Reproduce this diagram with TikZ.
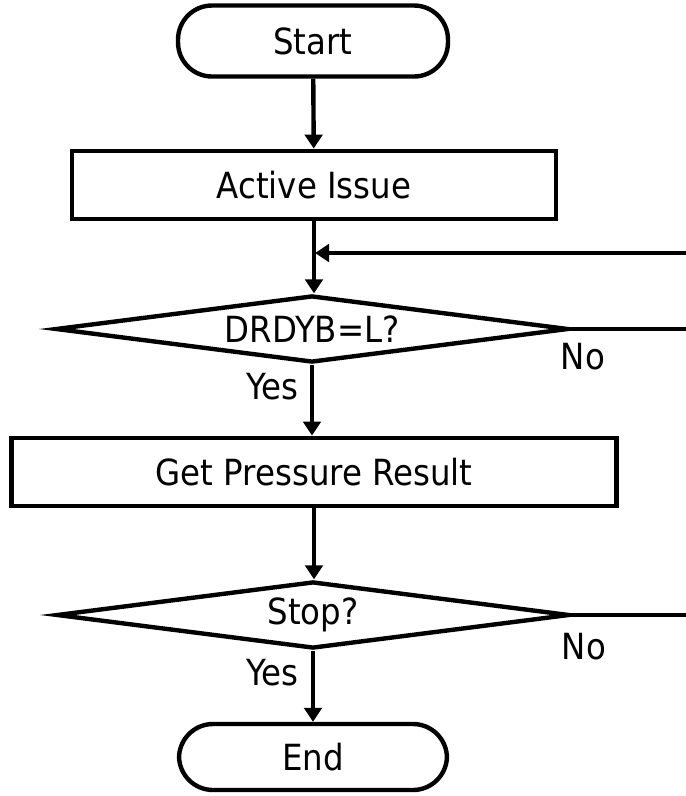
\documentclass[tikz,border=0pt]{standalone}
\usepackage{fontspec}
\setmainfont{DejaVu Sans Condensed}
\usetikzlibrary{shapes.geometric,arrows.meta}

\begin{document}
\begin{tikzpicture}[
  x=0.02cm, y=-0.02cm,
  line width=2.5pt,
  node font=\fontsize{20.5pt}{24pt}\selectfont,
  term/.style={draw, rectangle, rounded corners=0.68cm, minimum width=5.4cm, minimum height=1.42cm},
  proc/.style={draw, rectangle, minimum height=1.37cm},
  decision/.style={draw, diamond, aspect=7.5, inner sep=0pt, minimum width=10.26cm, minimum height=1.34cm},
  lbl/.style={inner sep=0pt},
  arr/.style={-{Triangle[width=3.5mm,length=2.8mm]}}]
\useasboundingbox (0,0) rectangle (686,796);
\node[term] (start) at (313,41) {Start};
\node[proc, minimum width=9.68cm] (active) at (314,185) {Active Issue};
\node[decision] (drdyb) at (312,329) {DRDYB=L?};
\node[proc, minimum width=12.1cm] (pressure) at (314,472) {Get Pressure Result};
\node[decision] (stop) at (313,615) {Stop?};
\node[term, minimum width=5.36cm, minimum height=1.32cm] (end) at (313,757) {End};
% free ends on the right
\coordinate (loopin) at (686,253);
\coordinate (merge) at (313,253);
\coordinate (noout1) at (686,329);
\coordinate (noout2) at (686,615);
% main line
\draw[arr] (start) -- (active);
\draw[arr] (active) -- (active |- drdyb.north);
\draw[arr, shorten >=1.2pt] (loopin) -- (merge);
\draw[arr] (drdyb) -- (drdyb |- pressure.north);
\draw[arr] (pressure) -- (pressure |- stop.north);
\draw[arr] (stop) -- (stop |- end.north);
% no branches
\draw (drdyb.east) -- (noout1);
\draw (stop.east) -- (noout2);
\node[lbl] (no1) at (583,357) {No};
\node[lbl] (yes1) at (272,387) {Yes};
\node[lbl] (no2) at (584,647) {No};
\node[lbl] (yes2) at (272,673) {Yes};
\end{tikzpicture}
\end{document}
